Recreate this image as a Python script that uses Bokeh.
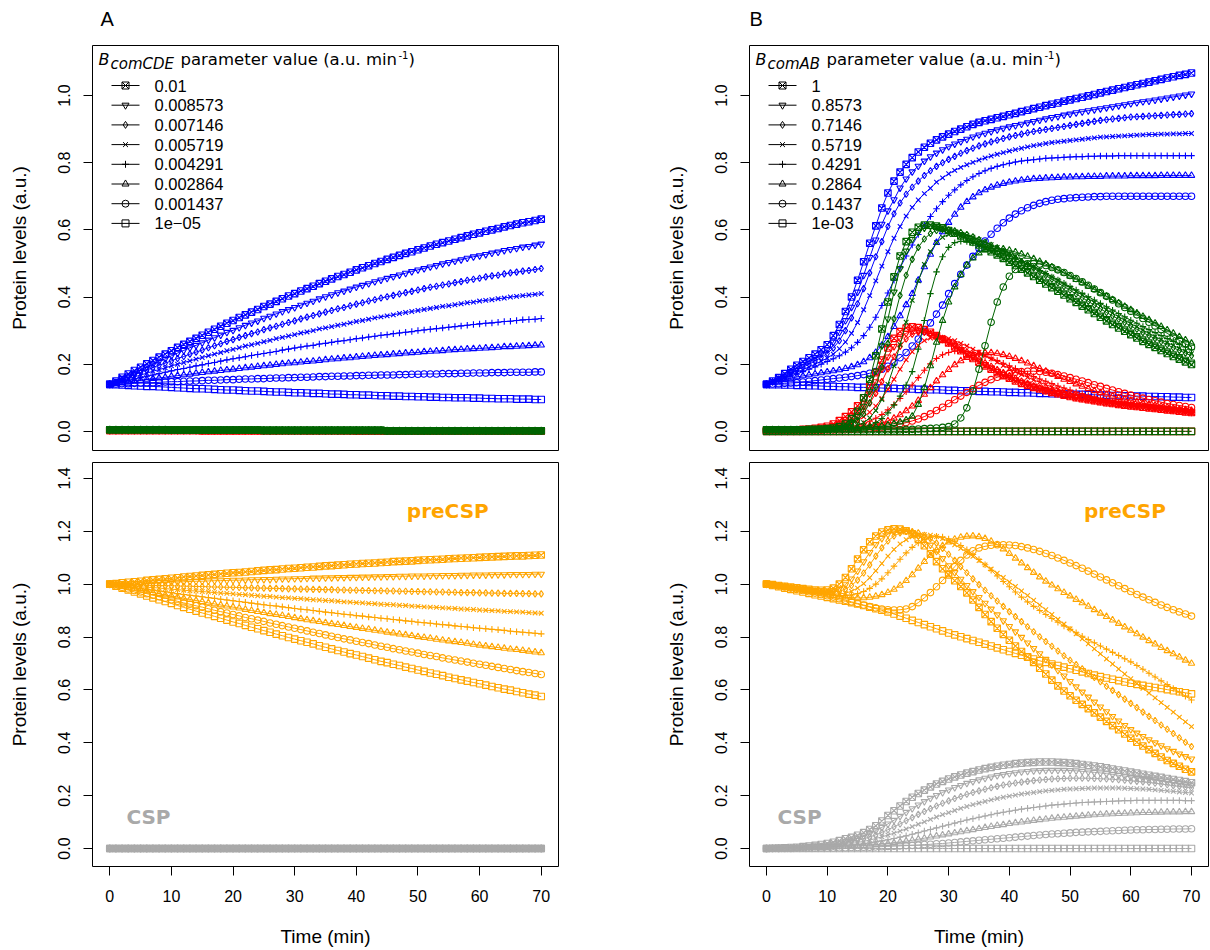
from bokeh.plotting import figure
from bokeh.layouts import column, row
from bokeh.models import Range1d, FixedTicker, NumeralTickFormatter, Title
from bokeh.core.properties import value
from bokeh.embed import file_html
from bokeh.resources import INLINE

# ---------------- data ----------------
TIME_MIN = list(range(0, 71))  # sampling times (min)

MARKERS = ["square_x", "inverted_triangle", "diamond", "x", "cross", "triangle", "circle", "square"]
A_PARAM_LABELS = ["0.01", "0.008573", "0.007146", "0.005719", "0.004291", "0.002864", "0.001437", "1e\u221205"]
B_PARAM_LABELS = ["1", "0.8573", "0.7146", "0.5719", "0.4291", "0.2864", "0.1437", "1e-03"]

X_TICKS = [0, 10, 20, 30, 40, 50, 60, 70]
TOP_Y_TICKS = [0.0, 0.2, 0.4, 0.6, 0.8, 1.0]
BOT_Y_TICKS = [0.0, 0.2, 0.4, 0.6, 0.8, 1.0, 1.2, 1.4]

# all protein levels below are in thousandths of a.u.
ZERO_LEVEL = [0, 0, 0, 0, 0, 0, 0, 0, 0, 0, 0, 0, 0, 0, 0, 0, 0, 0, 0, 0, 0, 0, 0, 0, 0, 0, 0, 0, 0, 0,
              0, 0, 0, 0, 0, 0, 0, 0, 0, 0, 0, 0, 0, 0, 0, 0, 0, 0, 0, 0, 0, 0, 0, 0, 0, 0, 0, 0, 0, 0,
              0, 0, 0, 0, 0, 0, 0, 0, 0, 0, 0]

# Panel A (B_comCDE varied), top
A_BLUE = [
    [140,150,161,171,181,191,201,211,221,230, 240,250,259,268,277,286,295,304,313,322, 330,339,347,355,363,372,379,387,395,403,
     410,418,425,432,440,447,454,461,467,474, 481,487,493,500,506,512,518,524,530,535, 541,546,552,557,562,567,572,577,582,587,
     591,596,600,604,609,613,617,621,624,628, 632],
    [140,148,158,166,175,183,192,200,209,216, 225,233,241,249,256,264,272,279,287,295, 301,309,316,323,329,337,343,350,357,363,
     369,376,382,388,395,401,407,413,418,424, 430,435,440,446,451,456,461,466,471,476, 481,485,490,494,499,503,507,511,516,520,
     523,527,531,534,539,542,545,549,551,555, 558],
    [140,147,155,162,169,176,183,190,197,203, 210,217,223,230,236,242,249,255,261,268, 273,280,285,291,296,303,308,313,319,324,
     329,335,340,345,350,355,360,365,369,374, 379,383,388,392,397,401,405,409,413,417, 421,425,429,432,436,439,443,446,450,453,
     456,460,463,465,469,472,474,477,479,482, 485],
    [140,145,151,157,162,168,173,179,184,189, 195,200,205,210,215,220,225,230,235,240, 244,249,254,258,262,267,271,276,280,284,
     288,293,296,300,305,308,312,316,319,323, 327,330,334,338,341,344,347,351,354,357, 360,363,366,369,372,374,377,380,383,385,
     388,390,392,395,397,400,402,404,406,408, 410],
    [140,144,148,152,156,160,164,168,172,176, 180,184,187,191,195,198,202,205,209,213, 216,219,222,226,229,232,235,238,242,245,
     248,251,254,256,260,262,265,268,270,273, 276,278,281,283,286,288,291,293,295,297, 300,302,304,306,308,310,312,314,316,318,
     320,322,323,325,327,328,330,332,333,334, 336],
    [140,142,145,147,150,152,155,157,159,161, 164,166,168,170,173,175,177,179,181,183, 185,187,189,191,193,195,197,199,201,203,
     204,206,208,209,211,213,215,216,218,219, 221,223,224,226,227,228,230,231,233,234, 235,237,238,239,240,242,243,244,245,246,
     247,248,249,250,252,252,253,254,255,256, 257],
    [140,141,142,142,143,144,145,145,146,147, 148,148,149,150,150,151,152,152,153,154, 154,155,156,156,157,157,158,159,159,160,
     160,161,161,162,163,163,164,164,165,165, 166,166,167,167,168,168,168,169,169,170, 170,171,171,171,172,172,172,173,173,174,
     174,174,175,175,175,176,176,176,176,177, 177],
    [140,139,138,137,136,135,134,134,133,132, 131,130,129,128,127,127,126,125,124,123, 123,122,121,120,120,119,118,117,117,116,
     115,115,114,113,113,112,111,111,110,109, 109,108,108,107,106,106,105,105,104,104, 103,103,102,102,101,101,100,100,100,99,
     99,98,98,97,97,97,96,96,96,95, 95],
]
A_GREEN_LEVEL = [5,5,5,5,5,5,5,5,5,5, 4,4,4,4,4,4,4,4,4,4, 4,4,4,4,4,3,3,3,3,3, 3,3,3,3,3,3,3,3,3,3,
                 3,3,3,3,3,2,2,2,2,2, 2,2,2,2,2,2,2,2,2,2, 2,2,2,2,2,2,2,2,2,2, 2]
A_RED_LEVEL = [3,3,3,3,3,3,3,3,3,3, 3,3,3,3,3,2,2,2,2,2, 2,2,2,2,2,2,2,2,2,2, 2,2,2,2,2,2,2,2,2,2,
               1,1,1,1,1,1,1,1,1,1, 1,1,1,1,1,1,1,1,1,1, 1,1,1,1,1,1,1,1,1,1, 1]

# Panel A bottom: preCSP (orange); CSP stays at zero
A_ORANGE = [
    [1000,1002,1005,1007,1009,1011,1014,1016,1018,1020, 1022,1024,1027,1029,1031,1033,1035,1037,1039,1041,
     1043,1044,1046,1048,1050,1052,1054,1055,1057,1059, 1060,1062,1064,1065,1067,1069,1070,1072,1073,1075,
     1076,1078,1079,1080,1082,1083,1085,1086,1087,1088, 1090,1091,1092,1093,1094,1096,1097,1098,1099,1100,
     1101,1102,1103,1104,1105,1106,1107,1107,1108,1109, 1110],
    [1000,1001,1002,1002,1003,1004,1005,1005,1006,1007, 1008,1008,1009,1010,1011,1011,1012,1013,1013,1014,
     1015,1015,1016,1017,1017,1018,1018,1019,1020,1020, 1021,1021,1022,1023,1023,1024,1024,1025,1025,1026,
     1026,1027,1027,1028,1028,1029,1029,1030,1030,1031, 1031,1031,1032,1032,1033,1033,1033,1034,1034,1035,
     1035,1035,1036,1036,1036,1037,1037,1037,1037,1038, 1038],
    [1000,999,999,998,997,997,996,995,995,994, 994,993,992,992,991,991,990,989,989,988, 988,987,986,986,985,985,984,984,983,982,
     982,981,981,980,980,979,979,978,978,977, 977,976,976,975,975,974,974,973,973,972, 972,971,971,970,970,969,969,968,968,968,
     967,967,966,966,965,965,965,964,964,963, 963],
    [1000,998,996,994,992,990,988,987,985,983, 981,979,977,975,974,972,970,968,966,965, 963,961,960,958,956,954,953,951,949,948,
     946,945,943,941,940,938,937,935,933,932, 930,929,927,926,924,923,922,920,919,917, 916,914,913,912,910,909,908,906,905,904,
     902,901,900,899,897,896,895,894,892,891, 890],
    [1000,997,993,990,987,984,980,977,974,971, 968,964,961,958,955,952,949,946,943,940, 937,934,931,928,925,922,919,917,914,911,
     908,905,903,900,897,894,892,889,886,884, 881,879,876,874,871,869,866,864,861,859, 856,854,852,849,847,845,842,840,838,835,
     833,831,829,827,825,822,820,818,816,814, 812],
    [1000,995,991,986,982,977,973,968,964,959, 955,951,946,942,938,934,929,925,921,917, 913,909,904,900,896,892,888,885,881,877,
     873,869,865,861,858,854,850,847,843,839, 836,832,829,825,822,818,815,811,808,805, 801,798,795,791,788,785,782,779,776,772,
     769,766,763,760,757,754,752,749,746,743, 740],
    [1000,994,988,982,976,970,964,958,952,947, 941,935,929,924,918,913,907,901,896,891, 885,880,874,869,864,859,853,848,843,838,
     833,828,823,818,813,808,803,798,793,789, 784,779,775,770,765,761,756,752,747,743, 739,734,730,726,721,717,713,709,705,701,
     697,693,689,685,681,677,673,669,666,662, 658],
    [1000,992,985,978,970,963,955,948,941,934, 927,919,912,905,898,891,885,878,871,864, 857,851,844,837,831,824,818,811,805,798,
     792,786,780,774,767,761,755,749,743,737, 732,726,720,714,708,703,697,692,686,681, 675,670,664,659,654,648,643,638,633,628,
     623,618,613,608,603,599,594,589,584,580, 575],
]

# Panel B (B_comAB varied), top
B_BLUE = [
    [140,150,160,172,185,197,208,219,230,243, 258,285,318,357,400,450,505,560,612,665, 710,745,772,795,815,832,846,858,868,877,
     885,893,900,907,914,920,925,929,934,938, 943,947,952,956,961,965,970,974,978,983, 987,991,995,999,1003,1008,1012,1016,1020,1024,
     1028,1032,1036,1040,1044,1048,1052,1056,1060,1063, 1067],
    [140,149,158,168,179,190,200,210,220,231, 244,266,295,330,370,415,465,518,570,617, 657,690,725,752,773,790,805,818,829,839,
     848,856,863,870,877,883,888,893,898,903, 907,911,915,919,923,927,931,935,938,942, 945,949,952,955,958,961,964,967,970,973,
     976,979,982,984,987,990,993,996,999,1002, 1005],
    [140,148,156,164,173,182,191,200,210,220, 232,248,270,300,338,380,425,472,520,565, 610,648,680,706,727,745,762,776,789,800,
     810,819,828,836,843,850,856,862,867,872, 877,881,885,889,893,896,899,902,905,908, 911,914,917,920,923,926,928,930,932,934,
     936,937,938,939,940,941,942,943,944,945, 946],
    [140,147,154,161,168,176,184,192,200,209, 218,230,246,266,292,324,362,404,448,492, 535,575,610,641,667,689,708,724,742,755,
     767,777,786,794,801,808,814,820,825,830, 835,839,843,847,851,854,857,860,862,864, 866,868,870,872,874,876,877,878,879,880,
     881,882,883,884,884,885,885,886,886,887, 887],
    [140,146,152,158,165,171,178,185,192,200, 208,216,225,236,249,265,285,310,340,375, 412,450,487,522,555,586,614,640,663,684,
     703,719,734,747,758,768,776,783,789,794, 798,802,805,807,809,811,813,814,815,816, 817,818,818,819,819,820,820,820,821,821,
     821,821,821,821,821,821,821,821,821,821, 821],
    [140,145,150,154,158,162,165,168,171,174, 177,180,183,187,192,198,207,219,235,256, 282,312,344,377,410,450,490,527,562,594,
     622,646,667,684,698,710,719,727,733,738, 742,745,748,750,752,753,754,755,756,757, 757,758,758,759,759,759,760,760,760,760,
     761,761,761,761,761,762,762,762,762,762, 762],
    [140,141,142,143,144,145,147,149,151,153, 155,157,159,161,163,166,169,173,178,185, 194,205,219,235,254,275,298,323,349,376,
     410,440,468,495,521,545,567,587,605,621, 635,647,657,666,673,679,684,688,691,693, 695,696,697,698,699,699,700,700,700,700,
     700,700,700,700,700,700,700,700,700,700, 700],
    [140,139,139,138,138,137,137,136,136,135, 134,134,133,133,132,131,131,130,130,129, 128,128,127,127,126,125,125,124,124,123,
     122,122,121,121,120,119,119,118,118,117, 116,116,115,115,114,113,113,112,112,111, 111,110,110,109,109,108,108,107,107,106,
     106,105,105,104,104,103,103,102,102,101, 101],
]
B_GREEN = [
    [5,5,5,5,5,5,5,6,6,7, 8,10,14,22,38,60,100,155,225,305, 385,460,522,565,593,608,614,614,611,606,
     598,590,582,573,564,555,545,535,525,515, 504,494,483,472,461,450,439,428,417,406, 395,384,373,362,351,340,329,318,308,298,
     288,278,268,259,250,241,232,223,215,207, 199],
    [5,5,5,5,5,5,5,5,6,6, 7,9,12,17,27,45,75,120,180,255, 335,415,485,537,572,594,606,611,610,606,
     600,593,585,577,568,559,550,540,530,520, 510,500,489,479,468,457,446,435,424,413, 402,391,380,369,358,347,336,326,316,306,
     296,286,276,267,258,249,240,231,223,215, 207],
    [5,5,5,5,5,5,5,5,6,6, 7,8,10,14,20,32,52,85,132,192, 262,335,405,465,512,548,573,589,598,601,
     600,597,592,586,579,571,563,554,545,536, 526,516,506,496,486,475,464,453,442,431, 420,409,398,387,376,365,354,344,334,324,
     314,304,294,285,276,267,258,249,241,233, 225],
    [5,5,5,5,5,5,5,5,5,6, 6,7,8,10,13,18,26,40,62,95, 140,195,258,325,390,448,497,535,562,578,
     586,589,588,584,578,571,564,556,548,539, 530,521,511,501,491,481,471,460,450,439, 428,417,406,395,384,373,362,352,341,331,
     321,311,301,292,282,273,264,256,247,239, 231],
    [5,5,5,5,5,5,5,5,5,5, 5,6,6,7,8,10,13,18,26,38, 55,78,105,138,178,245,330,410,475,520,
     548,562,566,565,561,556,550,544,537,530, 522,514,506,497,488,479,470,460,451,441, 431,421,411,401,391,381,371,361,351,341,
     331,322,312,303,294,285,276,268,259,251, 243],
    [5,5,5,5,5,5,5,5,5,5, 5,5,6,6,7,8,9,11,13,16, 19,23,28,34,45,80,130,195,265,330,
     385,430,466,495,516,531,540,544,545,543, 539,534,528,521,514,506,498,489,480,471, 462,452,442,432,422,412,402,392,382,372,
     362,352,342,332,322,312,302,292,282,272, 262],
    [5,5,5,5,5,5,5,5,5,5, 5,5,5,5,5,5,5,5,5,5, 5,5,5,6,6,7,8,9,10,12,
     14,22,40,70,120,185,255,325,385,430, 462,482,494,499,500,498,494,488,481,473, 464,455,445,435,424,413,402,391,380,369,
     358,347,336,325,314,303,292,281,271,261, 251],
]
B_RED = [
    [3,3,3,3,4,5,6,7,9,12, 15,22,32,44,58,76,100,135,175,212, 248,277,297,308,311,309,303,295,285,274,
     263,252,240,229,217,206,195,185,175,166, 158,150,143,137,131,126,121,116,112,108, 104,100,97,94,91,88,85,83,80,78,
     76,74,72,70,68,66,64,62,60,58, 56],
    [3,3,3,3,4,4,5,6,8,10, 13,18,26,36,48,63,83,112,148,186, 222,253,277,292,299,300,297,291,283,274,
     264,254,243,232,221,210,199,189,179,170, 161,153,146,139,133,127,122,117,113,109, 105,101,98,95,92,89,86,84,81,79,
     77,75,73,71,69,67,65,63,61,59, 57],
    [3,3,3,3,3,4,4,5,6,8, 10,13,18,25,34,46,62,84,113,148, 186,222,253,275,289,295,295,291,285,277,
     268,258,248,237,226,215,204,194,184,175, 166,158,150,143,136,130,124,119,114,110, 106,102,99,96,93,90,87,85,82,80,
     78,76,74,72,70,68,66,64,62,60, 58],
    [3,3,3,3,3,3,4,4,5,6, 8,10,13,18,24,32,43,57,75,98, 125,155,185,213,237,256,270,278,281,280,
     276,270,262,254,245,236,226,216,206,196, 187,178,169,161,153,146,139,132,126,120, 115,110,106,102,98,94,91,88,85,82,
     80,77,75,73,71,69,67,65,63,61, 59],
    [3,3,3,3,3,3,3,4,4,5, 6,7,9,11,14,18,23,30,39,50, 64,80,98,118,138,160,182,201,217,228,
     235,239,240,238,235,230,224,218,211,203, 195,187,179,171,163,156,149,142,135,129, 123,117,112,107,102,98,94,90,87,84,
     81,78,76,73,71,69,67,65,63,61, 59],
    [3,3,3,3,3,3,3,3,4,4, 5,5,6,7,9,11,13,16,20,25, 31,39,49,61,75,92,110,130,150,168,
     184,198,210,220,227,232,234,234,232,228, 223,217,210,203,195,187,179,171,163,155, 148,141,134,127,121,115,110,105,100,96,
     92,88,84,81,78,75,72,69,66,64, 62],
    [3,3,3,3,3,3,3,3,3,3, 4,4,5,5,6,7,8,9,11,13, 15,18,22,26,31,37,44,52,62,72,
     83,94,105,116,127,137,146,154,161,167, 172,176,178,179,179,178,176,173,169,165, 160,155,150,145,139,134,128,123,118,113,
     108,103,99,95,91,87,83,80,77,74, 71],
]

# Panel B bottom
B_ORANGE = [
    [1000,998,995,992,989,986,983,980,978,977, 978,985,1000,1025,1058,1095,1130,1160,1182,1197,
     1205,1209,1208,1202,1190,1170,1145,1115,1085,1058, 1035,1013,991,967,940,912,885,858,833,810,
     788,766,745,725,704,682,660,637,615,596, 578,561,545,529,513,497,481,465,449,433,
     417,402,388,374,360,346,333,322,311,300, 290],
    [1000,998,995,992,989,986,983,980,977,975, 974,976,983,998,1020,1050,1085,1120,1150,1173,
     1189,1198,1202,1201,1195,1184,1168,1148,1124,1097, 1070,1044,1019,995,972,950,928,906,884,862,
     840,820,799,778,757,737,716,695,674,653, 632,612,592,573,554,536,518,500,483,466,
     450,437,424,412,400,389,378,368,358,348, 339],
    [1000,998,995,992,988,985,981,978,975,972, 970,970,973,981,995,1015,1042,1073,1106,1137,
     1163,1182,1194,1199,1199,1194,1185,1172,1155,1135, 1113,1090,1066,1043,1020,998,977,956,936,916,
     896,877,858,839,820,801,783,765,747,729, 712,696,680,663,647,631,614,598,582,565,
     549,533,516,500,484,467,451,435,419,402, 386],
    [1000,998,994,990,987,983,979,975,971,968, 965,963,963,966,973,985,1002,1024,1050,1078,
     1106,1131,1152,1168,1179,1185,1187,1185,1180,1172, 1161,1149,1135,1120,1105,1089,1073,1057,1041,1025,
     1008,991,974,957,939,921,903,885,867,849, 831,812,793,774,755,736,717,698,679,660,
     642,624,606,588,570,552,534,516,497,479, 461],
    [1000,997,994,990,986,982,978,974,970,966, 962,959,957,957,959,964,972,984,1000,1020,
     1043,1068,1094,1118,1139,1156,1169,1177,1181,1178, 1171,1160,1146,1130,1112,1093,1073,1052,1031,1010,
     990,970,951,933,916,900,885,870,856,842, 829,816,803,790,778,766,754,742,730,718,
     706,692,678,663,649,634,620,605,591,576, 562],
    [1000,997,993,989,985,981,977,973,969,965, 961,957,954,951,949,948,948,950,954,960,
     968,980,995,1013,1035,1060,1085,1108,1128,1145, 1159,1170,1177,1181,1182,1179,1172,1162,1149,1133,
     1116,1098,1080,1062,1044,1027,1011,996,982,968, 955,942,929,916,903,890,877,864,851,838,
     825,812,799,786,773,760,748,736,724,712, 700],
    [1000,997,993,989,985,980,976,971,966,961, 956,951,945,939,933,927,921,915,910,906,
     903,902,903,906,915,930,948,968,990,1014, 1040,1066,1090,1110,1126,1137,1143,1147,1149,1149,
     1148,1146,1142,1137,1131,1124,1116,1108,1099,1090, 1080,1070,1060,1049,1038,1027,1016,1005,994,983,
     972,961,951,941,931,921,912,903,895,887, 879],
    [1000,995,990,985,980,975,970,965,960,955, 950,945,940,935,930,925,919,913,907,901,
     895,887,879,871,863,855,847,839,831,823, 815,808,801,794,787,780,773,766,759,752,
     745,738,731,724,717,710,704,698,692,686, 680,674,668,662,656,650,645,640,635,630,
     625,621,617,613,609,605,601,597,593,589, 585],
]
B_GRAY = [
    [0,1,2,3,4,5,7,9,12,15, 19,24,30,37,42,50,60,72,86,104, 125,143,161,178,194,208,221,233,244,254,
     263,271,278,285,291,297,302,307,311,315, 318,321,323,325,326,327,327,327,326,325, 323,321,318,315,312,309,305,301,297,293,
     289,285,281,277,273,269,265,261,257,253, 249],
    [0,1,1,2,3,4,5,7,9,11, 14,18,22,27,33,40,48,57,68,80, 93,107,122,137,151,165,178,190,201,212,
     222,231,239,247,254,260,266,271,276,280, 284,287,290,292,294,295,296,296,296,296, 295,294,292,290,288,286,283,280,277,274,
     271,268,265,262,259,256,253,250,247,244, 241],
    [0,1,1,2,2,3,4,5,7,9, 11,14,17,21,26,31,37,44,52,61, 71,82,93,105,117,129,140,151,161,171,
     180,189,197,205,212,218,224,230,235,240, 244,248,251,254,257,259,261,263,264,265, 266,266,266,266,265,264,263,262,260,258,
     256,254,252,250,247,244,241,238,235,232, 229],
    [0,0,1,1,2,2,3,4,5,7, 9,11,13,16,19,23,27,32,38,44, 51,58,66,74,83,92,101,110,119,128,
     136,144,152,159,166,172,178,184,189,194, 198,202,206,209,212,215,218,220,222,224, 225,226,227,228,229,229,229,229,229,228,
     227,226,225,224,222,220,218,216,214,212, 210],
    [0,0,1,1,1,2,2,3,4,5, 6,7,9,11,13,15,18,21,25,29, 33,38,43,48,54,60,66,72,78,84,
     90,96,102,108,113,118,123,128,133,137, 141,145,149,152,155,158,161,164,166,168, 170,172,174,175,176,177,178,179,180,181,
     181,182,182,182,182,182,182,182,182,181, 181],
    [0,0,0,1,1,1,2,2,3,3, 4,5,6,7,8,9,11,13,15,17, 19,22,25,28,31,35,39,43,47,51,
     55,59,63,67,71,75,79,83,87,90, 94,97,100,103,106,109,111,114,116,118, 120,122,124,126,127,129,130,131,132,133,
     134,135,136,136,137,137,138,138,138,139, 139],
    [0,0,0,0,0,1,1,1,1,2, 2,2,3,3,4,4,5,5,6,7, 8,9,10,11,12,13,15,16,18,19,
     21,23,25,27,29,31,33,35,37,39, 41,43,45,47,49,51,53,55,56,58, 59,61,62,63,64,65,66,67,68,69,
     70,71,71,72,72,73,73,74,74,74, 75],
]

# ---------------- layout constants ----------------
BLUE, GREEN, RED, ORANGE, GRAY = "#0000FF", "#006400", "#FF0000", "#FFA500", "#A9A9A9"
LEFT_W, RIGHT_W = 620, 590
TOP_H, BOT_H = 456, 494
FW_L, FW_R = 466, 459
FH_TOP, FH_BOT = 405, 404
LB_L = 92
LB_R = RIGHT_W - FW_R - 2
X_RANGE = (-2.8, 72.8)
TOP_YR = (-0.057, 1.149)
BOT_YR = (-0.068, 1.46)
SANS = "Liberation Sans"

for grp in (A_BLUE, A_ORANGE, B_BLUE, B_GREEN, B_RED, B_ORANGE, B_GRAY, [ZERO_LEVEL, A_GREEN_LEVEL, A_RED_LEVEL]):
    for r in grp:
        assert len(r) == len(TIME_MIN), len(r)


def make_fig(width, height, yr, lb, rb, tb, bb, yticks, show_x, letter, letter_offset):
    p = figure(width=width, height=height, x_range=Range1d(*X_RANGE), y_range=Range1d(*yr),
               output_backend="svg", toolbar_location=None,
               min_border_left=lb, min_border_right=rb, min_border_top=tb, min_border_bottom=bb)
    p.outline_line_color = "black"
    p.outline_line_alpha = 1.0
    p.outline_line_width = 1
    p.background_fill_color = "white"
    p.border_fill_color = "white"
    p.xgrid.visible = False
    p.ygrid.visible = False
    if letter:
        p.title.text = letter
        p.title.align = "left"
        p.title.offset = letter_offset
        p.title.text_font = SANS
        p.title.text_font_size = "20px"
        p.title.text_font_style = "normal"
        p.title.text_color = "black"
        p.title.standoff = 8
        # spacer title above the panel letter, pushes the letter down a little
        p.add_layout(Title(text=" ", text_font_size="2px", standoff=8), "above")
    ya = p.yaxis[0]
    ya.ticker = FixedTicker(ticks=yticks)
    ya.formatter = NumeralTickFormatter(format="0.0")
    ya.major_label_orientation = "vertical"
    ya.axis_line_color = None
    ya.major_tick_in = 0
    ya.major_tick_out = 9
    ya.major_tick_line_color = "black"
    ya.minor_tick_line_color = None
    ya.major_label_text_font = SANS
    ya.major_label_text_font_size = "16px"
    ya.major_label_text_color = "black"
    ya.major_label_standoff = 13
    ya.axis_label = "Protein levels (a.u.)"
    ya.axis_label_text_font = SANS
    ya.axis_label_text_font_size = "19px"
    ya.axis_label_text_font_style = "normal"
    ya.axis_label_text_color = "black"
    ya.axis_label_standoff = 26
    xa = p.xaxis[0]
    if show_x:
        xa.ticker = FixedTicker(ticks=X_TICKS)
        xa.axis_line_color = None
        xa.major_tick_in = 0
        xa.major_tick_out = 9
        xa.major_tick_line_color = "black"
        xa.minor_tick_line_color = None
        xa.major_label_text_font = SANS
        xa.major_label_text_font_size = "16px"
        xa.major_label_text_color = "black"
        xa.major_label_standoff = 14
        xa.axis_label = "Time (min)"
        xa.axis_label_text_font = SANS
        xa.axis_label_text_font_size = "19px"
        xa.axis_label_text_font_style = "normal"
        xa.axis_label_text_color = "black"
        xa.axis_label_standoff = 21
    else:
        xa.visible = False
    return p


def px(p, fw, fh, dx, dy):
    xr, yr = p.x_range, p.y_range
    return (xr.start + dx * (xr.end - xr.start) / fw,
            yr.end - dy * (yr.end - yr.start) / fh)


def draw_group(p, rows, color):
    for vals, m in zip(rows, MARKERS):
        ys = [v / 1000.0 for v in vals]
        p.line(TIME_MIN, ys, line_color=color, line_width=1)
        p.scatter(TIME_MIN, ys, marker=m, size=6.5, line_color=color, fill_color=None, line_width=1.1)


def put_text(p, x, y, s, size, font=SANS, style="normal", color="black", align="left"):
    p.text(x=[x], y=[y], text=[s], text_font=value(font), text_font_size=value(size),
           text_font_style=value(style), text_color=color, text_align=value(align),
           text_baseline=value("middle"))


def draw_legend(p, fw, fh, sub, sub_w, labels):
    x, y = px(p, fw, fh, 6, 14)
    put_text(p, x, y, "B", "16px", font="DejaVu Sans", style="italic")
    x, y = px(p, fw, fh, 18, 18)
    put_text(p, x, y, sub, "15px", font="DejaVu Sans", style="italic")
    start = 18 + sub_w + 6
    x, y = px(p, fw, fh, start, 14)
    put_text(p, x, y, "parameter value (a.u. min", "16.5px", font="DejaVu Sans")
    x, y = px(p, fw, fh, start + 218, 9)
    put_text(p, x, y, "-1", "10px", font="DejaVu Sans")
    x, y = px(p, fw, fh, start + 228, 14)
    put_text(p, x, y, ")", "16.5px", font="DejaVu Sans")
    for i, (m, lab) in enumerate(zip(MARKERS, labels)):
        dy = 40 + 19.7 * i
        x0, yy = px(p, fw, fh, 19, dy)
        x1, _ = px(p, fw, fh, 47, dy)
        xm, _ = px(p, fw, fh, 33, dy)
        xt, _ = px(p, fw, fh, 62, dy)
        p.line([x0, x1], [yy, yy], line_color="black", line_width=1)
        p.scatter([xm], [yy], marker=m, size=7, line_color="black", fill_color=None, line_width=1)
        put_text(p, xt, yy, lab, "16.5px")


# ---------------- panel A ----------------
pa_top = make_fig(LEFT_W, TOP_H, TOP_YR, LB_L, LEFT_W - LB_L - FW_L, 45, 6, TOP_Y_TICKS, False, "A", 8)
draw_group(pa_top, A_BLUE, BLUE)
draw_group(pa_top, [A_RED_LEVEL] * 8, RED)
draw_group(pa_top, [A_GREEN_LEVEL] * 8, GREEN)
draw_legend(pa_top, FW_L, FH_TOP, "comCDE", 64, A_PARAM_LABELS)

pa_bot = make_fig(LEFT_W, BOT_H, BOT_YR, LB_L, LEFT_W - LB_L - FW_L, 6, 84, BOT_Y_TICKS, True, None, 0)
draw_group(pa_bot, A_ORANGE, ORANGE)
draw_group(pa_bot, [ZERO_LEVEL] * 8, GRAY)
put_text(pa_bot, 48.2, 1.278, "preCSP", "20px", font="DejaVu Sans", style="bold", color=ORANGE)
put_text(pa_bot, 2.7, 0.118, "CSP", "20px", font="DejaVu Sans", style="bold", color=GRAY)

# ---------------- panel B ----------------
pb_top = make_fig(RIGHT_W, TOP_H, TOP_YR, LB_R, 2, 45, 6, TOP_Y_TICKS, False, "B", 0)
draw_group(pb_top, B_BLUE, BLUE)
draw_group(pb_top, B_RED + [ZERO_LEVEL], RED)
draw_group(pb_top, B_GREEN + [ZERO_LEVEL], GREEN)
draw_legend(pb_top, FW_R, FH_TOP, "comAB", 53, B_PARAM_LABELS)

pb_bot = make_fig(RIGHT_W, BOT_H, BOT_YR, LB_R, 2, 6, 84, BOT_Y_TICKS, True, None, 0)
draw_group(pb_bot, B_ORANGE, ORANGE)
draw_group(pb_bot, B_GRAY + [ZERO_LEVEL], GRAY)
put_text(pb_bot, 52.3, 1.278, "preCSP", "20px", font="DejaVu Sans", style="bold", color=ORANGE)
put_text(pb_bot, 1.8, 0.118, "CSP", "20px", font="DejaVu Sans", style="bold", color=GRAY)

layout = column(row(pa_top, pb_top), row(pa_bot, pb_bot))
open("out.html", "w").write(file_html(layout, INLINE, title="Protein levels"))
